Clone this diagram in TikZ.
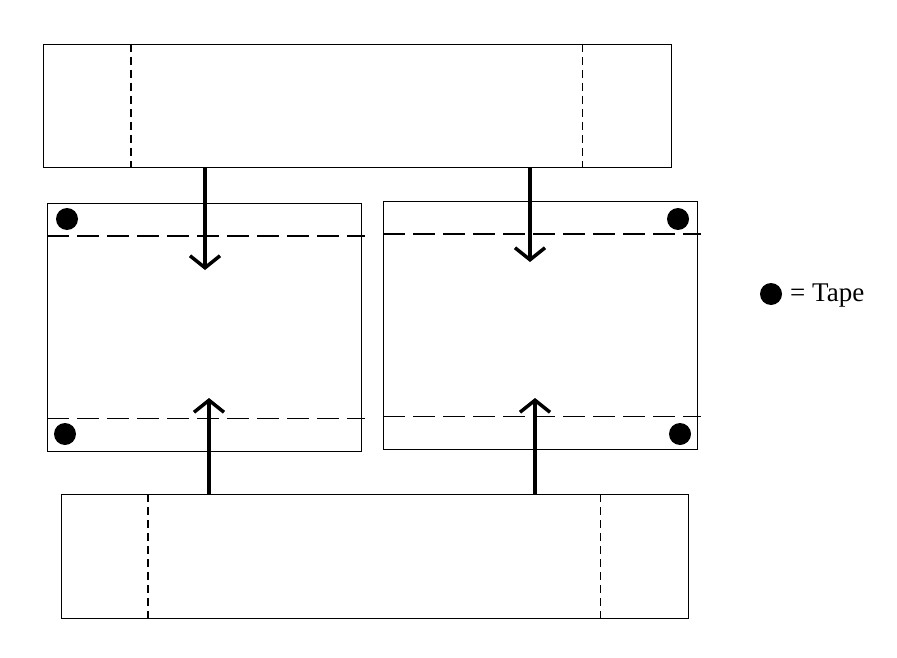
\documentclass[tikz,border=0pt]{standalone}
\usepackage{fontspec}
\setmainfont{Liberation Serif}
\usetikzlibrary{arrows.meta}
\begin{document}
\begin{tikzpicture}[x=1pt,y=-1pt,
  panel/.style={draw=black, line width=1.4pt, rectangle, inner sep=0pt, anchor=north west},
  foldv/.style={line width=1.4pt, dash pattern=on 8pt off 5pt},
  foldh/.style={line width=1.4pt, dash pattern=on 22pt off 8pt},
  tape/.style={circle, fill=black, minimum size=22pt, inner sep=0pt},
  push/.style={line width=4pt, -{Straight Barb[length=12pt,width=30pt,line width=3.5pt]}}]
\useasboundingbox (0,0) rectangle (897,658);
\fill[white] (0,0) rectangle (897,658);
% panels
\node[panel, minimum width=628pt, minimum height=123pt] (top) at (43,44) {};
\node[panel, minimum width=314pt, minimum height=248pt] (left) at (47,203) {};
\node[panel, minimum width=314pt, minimum height=248pt] (right) at (383,201) {};
\node[panel, minimum width=627pt, minimum height=124pt] (bottom) at (61,494) {};
% fold lines
\draw[foldv] ([xshift=88pt]top.north west) -- ([xshift=88pt]top.south west);
\draw[foldv] ([xshift=-90pt]top.north east) -- ([xshift=-90pt]top.south east);
\draw[foldv] ([xshift=87pt]bottom.north west) -- ([xshift=87pt]bottom.south west);
\draw[foldv] ([xshift=-89pt]bottom.north east) -- ([xshift=-89pt]bottom.south east);
\draw[foldh] ([yshift=-33pt]left.north west) -- ([yshift=-33pt,xshift=3pt]left.north east);
\draw[foldh] ([yshift=34pt]left.south west) -- ([yshift=34pt,xshift=3pt]left.south east);
\draw[foldh] ([yshift=-33pt]right.north west) -- ([yshift=-33pt,xshift=3pt]right.north east);
\draw[foldh] ([yshift=34pt]right.south west) -- ([yshift=34pt,xshift=3pt]right.south east);
% tape dots
\node[tape] (t1) at (67,219) {};
\node[tape] (t2) at (65,434) {};
\node[tape] (t3) at (678,219) {};
\node[tape] (t4) at (680,434) {};
% arrows
\coordinate (a1) at (205,270);
\coordinate (a2) at (530,262);
\coordinate (a3) at (209,398);
\coordinate (a4) at (535,398);
\draw[push] (top.south -| a1) -- (a1);
\draw[push] (top.south -| a2) -- (a2);
\draw[push] (bottom.north -| a3) -- (a3);
\draw[push] (bottom.north -| a4) -- (a4);
% legend
\node[tape] (legdot) at (771,294) {};
\node[anchor=base west, inner sep=0pt, font=\fontsize{27}{32}\selectfont] (legtxt) at (790,301) {= Tape};
\end{tikzpicture}
\end{document}
